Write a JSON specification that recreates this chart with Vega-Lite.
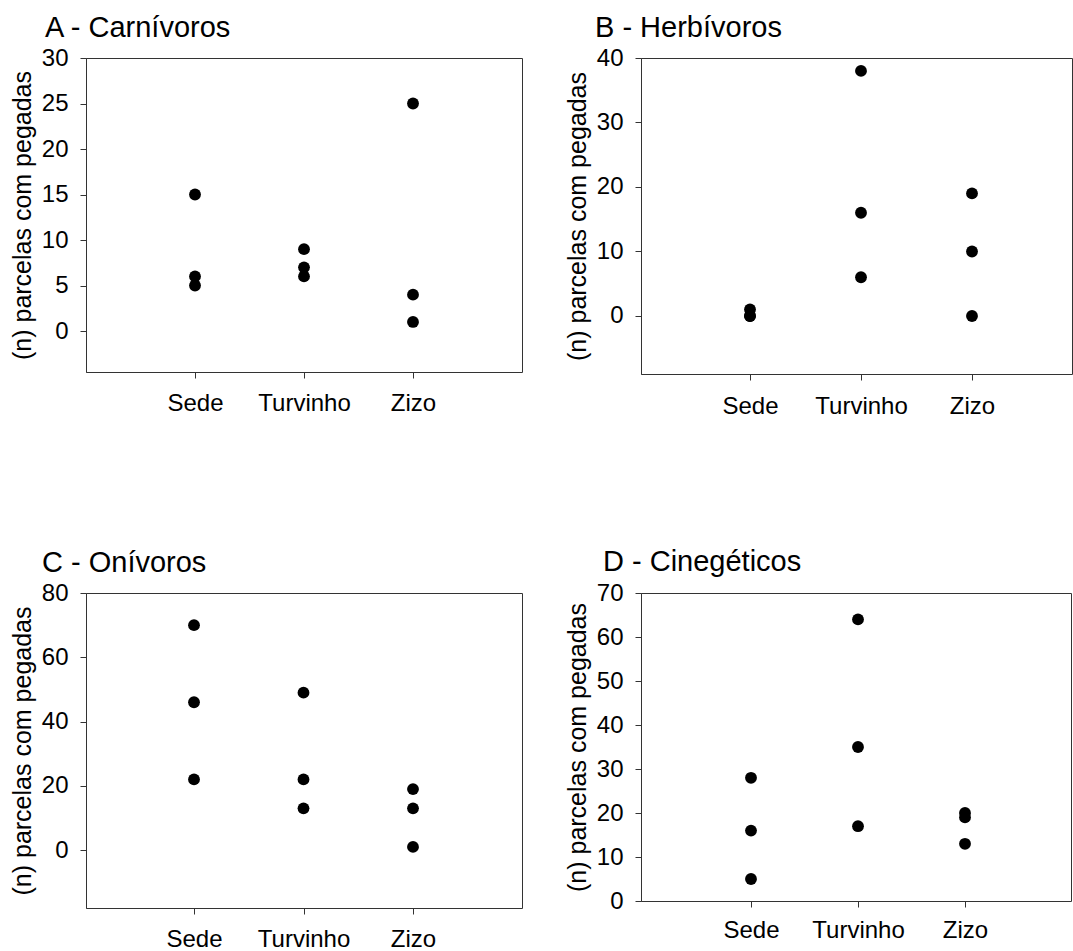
{
  "$schema": "https://vega.github.io/schema/vega-lite/v6.json",
  "background": "white",
  "padding": {"left": 9, "top": 13, "right": 0, "bottom": 0},
  "datasets": {
    "carn": [
      {"local": "Sede", "n": 15}, {"local": "Sede", "n": 6}, {"local": "Sede", "n": 5},
      {"local": "Turvinho", "n": 9}, {"local": "Turvinho", "n": 7}, {"local": "Turvinho", "n": 6},
      {"local": "Zizo", "n": 25}, {"local": "Zizo", "n": 4}, {"local": "Zizo", "n": 1}
    ],
    "herb": [
      {"local": "Sede", "n": 1}, {"local": "Sede", "n": 0}, {"local": "Sede", "n": 0},
      {"local": "Turvinho", "n": 38}, {"local": "Turvinho", "n": 16}, {"local": "Turvinho", "n": 6},
      {"local": "Zizo", "n": 19}, {"local": "Zizo", "n": 10}, {"local": "Zizo", "n": 0}
    ],
    "oni": [
      {"local": "Sede", "n": 70}, {"local": "Sede", "n": 46}, {"local": "Sede", "n": 22},
      {"local": "Turvinho", "n": 49}, {"local": "Turvinho", "n": 22}, {"local": "Turvinho", "n": 13},
      {"local": "Zizo", "n": 19}, {"local": "Zizo", "n": 13}, {"local": "Zizo", "n": 1}
    ],
    "cine": [
      {"local": "Sede", "n": 28}, {"local": "Sede", "n": 16}, {"local": "Sede", "n": 5},
      {"local": "Turvinho", "n": 64}, {"local": "Turvinho", "n": 35}, {"local": "Turvinho", "n": 17},
      {"local": "Zizo", "n": 20}, {"local": "Zizo", "n": 19}, {"local": "Zizo", "n": 13}
    ]
  },
  "columns": 2,
  "bounds": "flush",
  "spacing": {"row": 219, "column": 119},
  "concat": [
    {
      "title": {"text": "A - Carnívoros", "dx": -41, "offset": 3.5},
      "width": 436, "height": 314,
      "data": {"name": "carn"},
      "mark": {"type": "point", "filled": true, "size": 140, "color": "#000", "opacity": 1},
      "encoding": {
        "x": {"field": "local", "type": "nominal", "sort": ["Sede", "Turvinho", "Zizo"],
              "scale": {"type": "point", "range": [109, 327], "padding": 0},
              "axis": {"title": null, "labelAngle": 0, "labelBaseline": "alphabetic", "labelPadding": 32.5}},
        "y": {"field": "n", "type": "quantitative",
              "scale": {"domain": [-4.5, 30], "nice": false, "zero": false},
              "axis": {"title": "(n) parcelas com pegadas", "values": [0, 5, 10, 15, 20, 25, 30],
                       "titleX": -64, "titleY": 157, "titleAngle": -90, "titleAlign": "center", "titleBaseline": "middle", "labelPadding": 12}}
      }
    },
    {
      "title": {"text": "B - Herbívoros", "dx": -46, "offset": 3},
      "width": 431, "height": 316,
      "data": {"name": "herb"},
      "mark": {"type": "point", "filled": true, "size": 140, "color": "#000", "opacity": 1},
      "encoding": {
        "x": {"field": "local", "type": "nominal", "sort": ["Sede", "Turvinho", "Zizo"],
              "scale": {"type": "point", "range": [109, 331], "padding": 0},
              "axis": {"title": null, "labelAngle": 0, "labelBaseline": "alphabetic", "labelPadding": 33.5}},
        "y": {"field": "n", "type": "quantitative",
              "scale": {"domain": [-9, 40], "nice": false, "zero": false},
              "axis": {"title": "(n) parcelas com pegadas", "values": [0, 10, 20, 30, 40],
                       "titleX": -64, "titleY": 158, "titleAngle": -90, "titleAlign": "center", "titleBaseline": "middle", "labelPadding": 12}}
      }
    },
    {
      "title": {"text": "C - Onívoros", "dx": -44, "offset": 3},
      "width": 436, "height": 315,
      "data": {"name": "oni"},
      "mark": {"type": "point", "filled": true, "size": 140, "color": "#000", "opacity": 1},
      "encoding": {
        "x": {"field": "local", "type": "nominal", "sort": ["Sede", "Turvinho", "Zizo"],
              "scale": {"type": "point", "range": [108, 327], "padding": 0},
              "axis": {"title": null, "labelAngle": 0, "labelBaseline": "alphabetic", "labelPadding": 32}},
        "y": {"field": "n", "type": "quantitative",
              "scale": {"domain": [-18, 80], "nice": false, "zero": false},
              "axis": {"title": "(n) parcelas com pegadas", "values": [0, 20, 40, 60, 80],
                       "titleX": -64, "titleY": 157.5, "titleAngle": -90, "titleAlign": "center", "titleBaseline": "middle", "labelPadding": 12}}
      }
    },
    {
      "title": {"text": "D - Cinegéticos", "dx": -38, "offset": 4.5},
      "width": 430, "height": 308,
      "data": {"name": "cine"},
      "mark": {"type": "point", "filled": true, "size": 140, "color": "#000", "opacity": 1},
      "encoding": {
        "x": {"field": "local", "type": "nominal", "sort": ["Sede", "Turvinho", "Zizo"],
              "scale": {"type": "point", "range": [110, 324], "padding": 0},
              "axis": {"title": null, "labelAngle": 0, "labelBaseline": "alphabetic", "labelPadding": 30}},
        "y": {"field": "n", "type": "quantitative",
              "scale": {"domain": [0, 70], "nice": false, "zero": false},
              "axis": {"title": "(n) parcelas com pegadas", "values": [0, 10, 20, 30, 40, 50, 60, 70],
                       "titleX": -64, "titleY": 154, "titleAngle": -90, "titleAlign": "center", "titleBaseline": "middle", "labelPadding": 12}}
      }
    }
  ],
  "config": {
    "font": "Liberation Sans",
    "view": {"stroke": "#333", "strokeWidth": 1},
    "axis": {
      "grid": false, "domainColor": "#333", "domainWidth": 1, "tickColor": "#333", "tickSize": 6, "tickWidth": 1,
      "labelFont": "Liberation Sans", "labelFontSize": 24, "labelColor": "#000",
      "labelOverlap": false, "labelFlush": false, "labelBound": false,
      "titleFont": "Liberation Sans", "titleFontSize": 25, "titleFontWeight": "normal", "titleColor": "#000"
    },
    "title": {"font": "Liberation Sans", "fontSize": 29, "fontWeight": "normal", "anchor": "start", "frame": "group", "baseline": "alphabetic", "color": "#000"}
  }
}
